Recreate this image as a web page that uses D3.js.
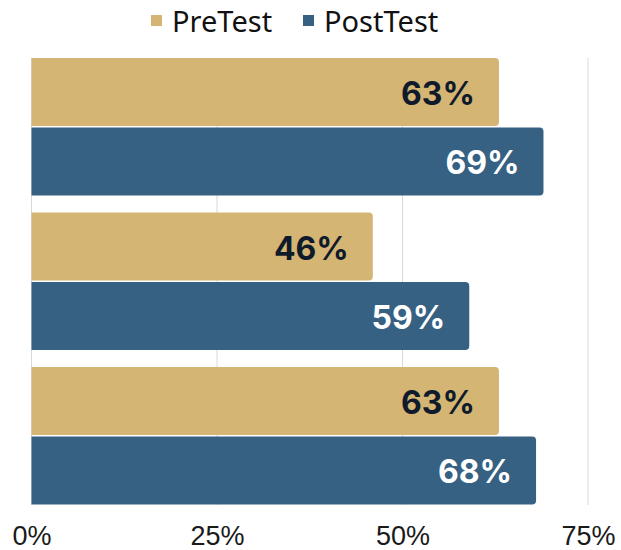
<!DOCTYPE html>
<html>
<head>
<meta charset="utf-8">
<script src="https://cdn.jsdelivr.net/npm/d3@7"></script>
<style>
  body { margin: 0; background: #fff; }
</style>
</head>
<body>
<div id="chart"></div>
<script>
// data
var groups = ["A", "B", "C"];
var seriesNames = ["PreTest", "PostTest"];
var preTest = [63, 46, 63];
var postTest = [69, 59, 68];
var tickValues = [0, 25, 50, 75];

var colours = {PreTest: "#d4b574", PostTest: "#366183"};
var labelColours = {PreTest: "#0f1b2a", PostTest: "#ffffff"};

var width = 621, height = 550;

var svg = d3.select("#chart")
    .append("svg")
    .attr("width", width)
    .attr("height", height);

var x = d3.scaleLinear()
    .domain([0, 75])
    .range([31.5, 588]);

var y0 = d3.scaleBand()
    .domain(groups)
    .range([49.5, 513])
    .paddingInner(0.11)
    .paddingOuter(0.055);

var y1 = d3.scaleBand()
    .domain(seriesNames)
    .range([0, y0.bandwidth()])
    .paddingInner(0.02);

// gridlines
svg.append("g")
    .selectAll("line")
    .data(tickValues)
    .enter()
    .append("line")
    .attr("x1", function (d) { return x(d); })
    .attr("x2", function (d) { return x(d); })
    .attr("y1", 58)
    .attr("y2", 505)
    .style("stroke", "#d9d9d9")
    .style("stroke-width", 1);

// bars
var rows = groups.map(function (g, i) {
    return [
        {group: g, series: "PreTest", value: preTest[i]},
        {group: g, series: "PostTest", value: postTest[i]}
    ];
});
var flat = [].concat.apply([], rows);

var r = 4;
function barPath(d) {
    var x0 = x(0), x1 = x(d.value);
    var top = y0(d.group) + y1(d.series);
    var h = y1.bandwidth();
    return "M" + x0 + "," + top +
        "H" + (x1 - r) +
        "Q" + x1 + "," + top + " " + x1 + "," + (top + r) +
        "V" + (top + h - r) +
        "Q" + x1 + "," + (top + h) + " " + (x1 - r) + "," + (top + h) +
        "H" + x0 + "Z";
}

svg.append("g")
    .selectAll("path")
    .data(flat)
    .enter()
    .append("path")
    .attr("d", barPath)
    .style("fill", function (d) { return colours[d.series]; });

// value labels
svg.append("g")
    .selectAll("text")
    .data(flat)
    .enter()
    .append("text")
    .attr("x", function (d) { return x(d.value) - 24; })
    .attr("y", function (d) { return y0(d.group) + y1(d.series) + y1.bandwidth() / 2 + 1.5; })
    .attr("dy", "0.36em")
    .attr("text-anchor", "end")
    .style("font-family", "Inter, sans-serif")
    .style("font-weight", 700)
    .style("font-size", "32px")
    .style("fill", function (d) { return labelColours[d.series]; })
    .text(function (d) { return d.value + "%"; });

// x axis
var xAxis = d3.axisBottom(x)
    .tickValues(tickValues)
    .tickSize(0)
    .tickPadding(0)
    .tickFormat(function (d) { return d + "%"; });

var axisG = svg.append("g")
    .attr("transform", "translate(0,545)")
    .call(xAxis);
axisG.select(".domain").remove();
axisG.selectAll("text")
    .attr("dy", 0)
    .attr("y", 0)
    .style("font-family", "'Liberation Sans', Arial, sans-serif")
    .style("font-size", "27px")
    .style("fill", "#1a1a1a");

// legend
var legendItems = [
    {name: "PreTest", sx: 151, tx: 172},
    {name: "PostTest", sx: 303, tx: 324}
];
var legend = svg.append("g");
legend.selectAll("rect")
    .data(legendItems)
    .enter()
    .append("rect")
    .attr("x", function (d) { return d.sx; })
    .attr("y", 15)
    .attr("width", 11)
    .attr("height", 11)
    .style("fill", function (d) { return colours[d.name]; });
legend.selectAll("text")
    .data(legendItems)
    .enter()
    .append("text")
    .attr("x", function (d) { return d.tx; })
    .attr("y", 32)
    .style("font-family", "'Noto Sans', sans-serif")
    .style("font-size", "29px")
    .style("fill", "#111")
    .text(function (d) { return d.name; });
</script>
</body>
</html>
